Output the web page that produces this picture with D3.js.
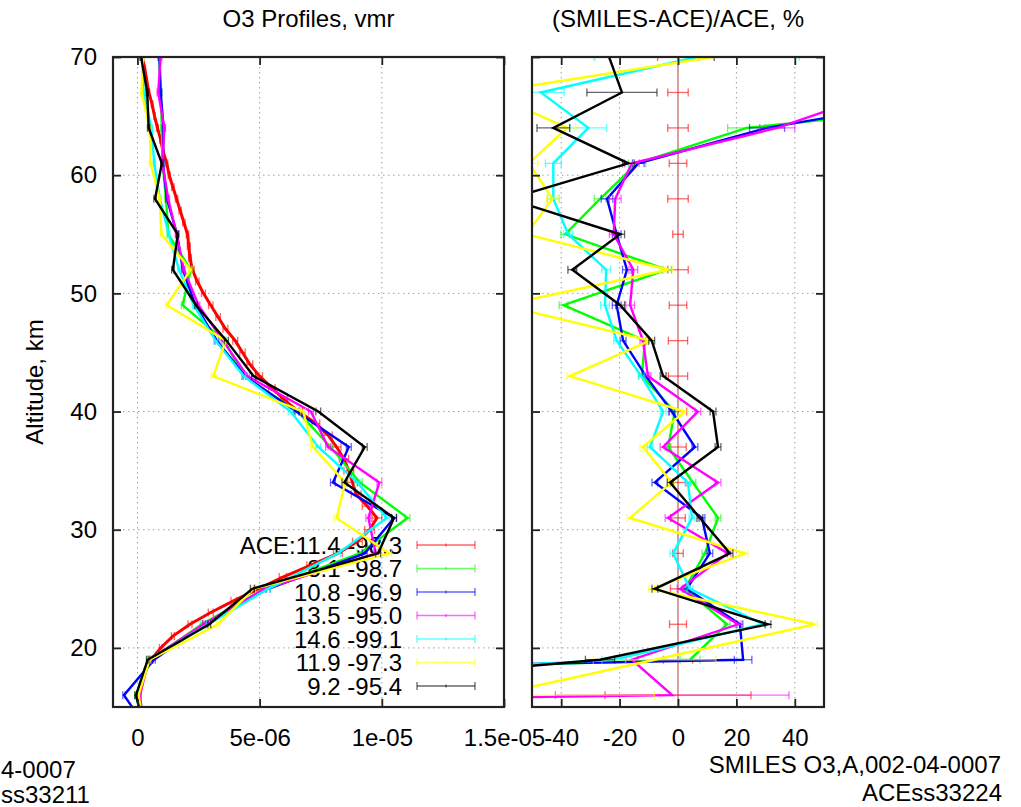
<!DOCTYPE html>
<html>
<head>
<meta charset="utf-8">
<script src="https://cdn.jsdelivr.net/npm/d3@7"></script>
<style>
  body { margin: 0; background: #fff; }
  text { font-family: "Liberation Sans", Arial, Helvetica, sans-serif; }
</style>
</head>
<body>
<svg id="chart" width="1021" height="807"></svg>
<script>
// ---- data ----
// SMILES retrieval levels (km)
const levels = [70, 67, 64, 61, 58, 55, 52, 49, 46, 43, 40, 37, 34, 31, 28, 25, 22, 19, 16, 13];
// ACE profile levels (km) and vmr (x1e-6)
const aceAlt = [15, 16, 17, 18, 19, 20, 21, 22, 23, 24, 25, 26, 27, 28, 29, 30, 31, 32, 33, 34, 35, 36, 37, 38, 39, 40,
  41, 42, 43, 44, 45, 46, 47, 48, 49, 50, 51, 52, 53, 54, 55, 56, 57, 58, 59, 60, 61, 62, 63, 64, 65, 66, 67, 68, 69, 70];
const aceVmr = [0.07, 0.1, 0.18, 0.3, 0.55, 0.95, 1.45, 2.15, 3.0, 3.95, 4.95, 5.95, 7.1, 8.2, 9.0, 9.5, 9.8, 9.4, 8.95, 8.8,
  8.65, 8.45, 8.15, 7.8, 7.3, 6.6, 6.0, 5.5, 5.0, 4.6, 4.3, 4.0, 3.6, 3.3, 3.0, 2.7, 2.45, 2.25, 2.15, 2.1,
  2.05, 1.9, 1.75, 1.6, 1.45, 1.3, 1.2, 1.05, 0.95, 0.82, 0.7, 0.6, 0.47, 0.38, 0.3, 0.2];
const aceErr = [0.02, 0.02, 0.03, 0.03, 0.04, 0.05, 0.06, 0.08, 0.1, 0.12, 0.14, 0.15, 0.17, 0.18, 0.2, 0.2, 0.2, 0.2, 0.2, 0.2,
  0.2, 0.19, 0.18, 0.17, 0.16, 0.15, 0.14, 0.13, 0.12, 0.12, 0.11, 0.1, 0.1, 0.09, 0.09, 0.08, 0.07, 0.07, 0.06, 0.06,
  0.05, 0.05, 0.05, 0.05, 0.05, 0.04, 0.04, 0.04, 0.04, 0.04, 0.03, 0.03, 0.03, 0.03, 0.03, 0.03];

// SMILES vmr profiles (x1e-6) at levels
const vmrGreen   = [0.9, 0.95, 1.0, 1.03, 1.17, 1.26, 2.18, 1.85, 3.55, 4.35, 6.55, 7.9, 9.1, 11.05, 9.1, 5.2, 2.63, 0.55, -0.05, 0.3];
const vmrBlue    = [0.9, 0.95, 1.07, 1.04, 1.21, 1.62, 1.86, 2.37, 3.25, 4.4, 6.5, 8.65, 8.0, 10.5, 9.3, 5.35, 2.73, 0.68, -0.55, 0.45];
const vmrMagenta = [0.95, 0.85, 1.1, 1.02, 1.26, 1.6, 1.9, 2.5, 3.5, 4.5, 7.1, 7.8, 9.9, 9.45, 9.75, 5.2, 2.71, 0.47, 0.1, 0.3];
const vmrCyan    = [0.21, 0.25, 0.57, 0.69, 0.92, 1.28, 1.7, 2.3, 3.2, 4.35, 6.27, 7.4, 9.0, 10.2, 8.2, 5.35, 2.9, 0.43, -0.05, 0.3];
const vmrYellow  = [0.22, 0.17, 0.5, 0.54, 0.91, 0.98, 2.18, 1.2, 3.62, 3.1, 6.78, 7.18, 8.5, 8.15, 10.3, 4.75, 3.3, 0.5, 0.04, 0.3];
const vmrBlack   = [0.15, 0.4, 0.46, 1.0, 0.72, 1.65, 1.45, 2.4, 3.64, 4.75, 7.4, 9.3, 8.47, 10.5, 9.85, 4.7, 2.94, 0.42, -0.06, 0.3];
const vmrErr     = [0.05, 0.05, 0.05, 0.05, 0.05, 0.05, 0.05, 0.05, 0.08, 0.08, 0.1, 0.1, 0.1, 0.1, 0.1, 0.08, 0.06, 0.05, 0.05, 0.05];

// (SMILES-ACE)/ACE, % at levels
const difGreen   = [300, 140, 23.5, -14, -26.7, -38.6, -3.8, -39.2, -11.3, -12.4, -1.1, -3.4, 5.1, 13.7, 9.2, 2.4, 16.8, 4.1, -400, -400];
const difBlue    = [300, 101, 30.5, -13.6, -24.3, -21, -17.5, -21, -18.8, -11, -2.1, 5.8, -7.9, 8.2, 10.9, 3.0, 21.2, 22.3, -600, -300];
const difMagenta = [300, 69, 34, -15.8, -21.5, -22, -15.3, -16.4, -12, -10.3, 6.8, -5.1, 13.7, -3.4, 17.1, 0.7, 20.6, -15.8, -2, -900];
const difCyan    = [6.5, -47, -30.7, -42.7, -42.7, -37.6, -24.6, -25, -21, -12.6, -5.1, -9.6, 3.4, 4.8, -1.7, 4.1, 29, -22, -250, -250];
const difYellow  = [12, -65, -38, -51, -43, -52, -3.3, -60, -9.6, -37, 2.3, -12, -2.2, -16.4, 22.9, -9, 46.8, -8, -63, -100];
const difBlack   = [-23.6, -19.2, -42.7, -17, -58, -19.8, -36.2, -19.8, -9, -5.1, 12, 13.7, -2.7, 7.5, 17.8, -7.9, 30.8, -26.7, -164, -200];
const errGreen   = [30, 15, 6.5, 3, 2, 1.5, 1.5, 1.5, 1, 1, 1, 1, 1, 1, 1, 1, 1, 3.4, 20, 5];
const errBlue    = [30, 15, 6, 2, 2, 1.5, 1.5, 1.5, 1, 1, 1, 1, 1, 1, 1, 1, 1, 3, 30, 5];
const errMagenta = [30, 15, 6, 2.5, 2, 1.5, 1.5, 1.5, 1, 1, 1, 1, 1, 1, 1, 1, 1, 2, 40, 5];
const errCyan    = [35, 8, 6.3, 2.7, 2, 1.5, 1.5, 1.5, 1, 1, 1, 1, 1, 1, 1, 1, 1, 4, 20, 5];
const errYellow  = [41, 10, 3, 3, 2, 1.5, 1.5, 1.5, 1, 1, 1, 1, 1, 1, 1, 1, 1, 21, 55, 5];
const errBlack   = [36, 12, 5.6, 2, 2, 1.5, 1.5, 1.5, 1, 1, 1, 1, 1, 1, 1, 1, 1, 5, 20, 5];
const errAce     = [7, 3.5, 3.5, 3, 3.5, 1.8, 3.5, 3, 3.3, 3.3, 3, 2.8, 2.7, 2.5, 1.8, 2.6, 2.9, 5, 25, 30];

const names  = ["ACE:11.4 -98.3", "8.1 -98.7", "10.8 -96.9", "13.5 -95.0", "14.6 -99.1", "11.9 -97.3", "9.2 -95.4"];
const colors = ["#ff0000", "#00ff00", "#0000ff", "#ff00ff", "#00ffff", "#ffff00", "#000000"];

const xTicksL = [0, 5, 10, 15];
const xLabelsL = ["0", "5e-06", "1e-05", "1.5e-05"];
const xTicksR = [-40, -20, 0, 20, 40];
const yTicks = [20, 30, 40, 50, 60, 70];

const smiles = [
  { vmr: vmrGreen,   dif: difGreen,   err: errGreen },
  { vmr: vmrBlue,    dif: difBlue,    err: errBlue },
  { vmr: vmrMagenta, dif: difMagenta, err: errMagenta },
  { vmr: vmrCyan,    dif: difCyan,    err: errCyan },
  { vmr: vmrYellow,  dif: difYellow,  err: errYellow },
  { vmr: vmrBlack,   dif: difBlack,   err: errBlack }
];

// ---- layout ----
const svg = d3.select("#chart");
const FS = 24;
const plotTop = 57, plotBot = 707;
const y = d3.scaleLinear().domain([15, 70]).range([plotBot, plotTop]);
const xL = d3.scaleLinear().domain([-1, 15]).range([113, 504]);
const xR = d3.scaleLinear().domain([-50, 50]).range([532, 824]);

svg.append("rect").attr("width", 1021).attr("height", 807).attr("fill", "#fff");

const defs = svg.append("defs");
defs.append("clipPath").attr("id", "clipL").append("rect")
  .attr("x", 113).attr("y", plotTop).attr("width", 391).attr("height", plotBot - plotTop);
defs.append("clipPath").attr("id", "clipR").append("rect")
  .attr("x", 532).attr("y", plotTop).attr("width", 292).attr("height", plotBot - plotTop);

function grid(x, xs) {
  const g = svg.append("g").attr("stroke", "#a0a0a0").attr("stroke-width", 1).attr("stroke-dasharray", "1.5,3.5");
  g.selectAll(".gv").data(xs).join("line")
    .attr("x1", d => x(d)).attr("x2", d => x(d)).attr("y1", plotTop).attr("y2", plotBot);
  g.selectAll(".gh").data(yTicks.filter(d => d < 70)).join("line")
    .attr("x1", x.range()[0]).attr("x2", x.range()[1]).attr("y1", d => y(d)).attr("y2", d => y(d));
}

function errorBars(g, pts, color) {
  const eg = g.append("g").attr("stroke", color).attr("stroke-opacity", 0.6).attr("stroke-width", 1.3);
  eg.selectAll(".eb").data(pts).join("line")
    .attr("x1", d => d.x0).attr("x2", d => d.x1).attr("y1", d => y(d.alt)).attr("y2", d => y(d.alt));
  eg.selectAll(".c0").data(pts).join("line")
    .attr("x1", d => d.x0).attr("x2", d => d.x0).attr("y1", d => y(d.alt) - 4).attr("y2", d => y(d.alt) + 4);
  eg.selectAll(".c1").data(pts).join("line")
    .attr("x1", d => d.x1).attr("x2", d => d.x1).attr("y1", d => y(d.alt) - 4).attr("y2", d => y(d.alt) + 4);
}

function axes(x, xt, xfmt, ylab) {
  const [x0, x1] = x.range();
  const style = sel => {
    sel.select(".domain").remove();
    sel.selectAll(".tick line").attr("stroke", "#222").attr("stroke-width", 1.8);
    sel.selectAll(".tick text").attr("font-size", FS).attr("fill", "#000")
      .style("font-family", '"Liberation Sans", Arial, sans-serif');
  };
  svg.append("g").attr("transform", `translate(0,${plotBot})`)
    .call(d3.axisBottom(x).tickValues(xt).tickFormat(xfmt).tickSize(-8).tickPadding(22)).call(style);
  svg.append("g").attr("transform", `translate(0,${plotTop})`)
    .call(d3.axisTop(x).tickValues(xt).tickFormat("").tickSize(-8)).call(style);
  svg.append("g").attr("transform", `translate(${x0},0)`)
    .call(d3.axisLeft(y).tickValues(yTicks).tickFormat(ylab ? (d => String(d)) : "").tickSize(-8).tickPadding(16)).call(style);
  svg.append("g").attr("transform", `translate(${x1},0)`)
    .call(d3.axisRight(y).tickValues(yTicks).tickFormat("").tickSize(-8)).call(style);
  svg.append("rect").attr("x", x0).attr("y", plotTop).attr("width", x1 - x0).attr("height", plotBot - plotTop)
    .attr("fill", "none").attr("stroke", "#222").attr("stroke-width", 2.2);
}

// ---- left panel: O3 vmr ----
grid(xL, [0, 5, 10]);

// key (drawn under the curves)
const key = svg.append("g");
names.forEach((n, i) => {
  const ky = 545 + i * 23.5;
  key.append("text").attr("x", 402).attr("y", ky + 8.5).attr("text-anchor", "end")
    .attr("font-size", FS).text(n);
  const kg = key.append("g").attr("stroke", colors[i]).attr("stroke-opacity", 0.6).attr("stroke-width", 1.3);
  kg.append("line").attr("x1", 417).attr("x2", 475).attr("y1", ky).attr("y2", ky);
  kg.append("line").attr("x1", 417).attr("x2", 417).attr("y1", ky - 4).attr("y2", ky + 4);
  kg.append("line").attr("x1", 475).attr("x2", 475).attr("y1", ky - 4).attr("y2", ky + 4);
  kg.append("line").attr("x1", 446).attr("x2", 446).attr("y1", ky - 1.5).attr("y2", ky + 1.5);
});

const gLeft = svg.append("g").attr("clip-path", "url(#clipL)");
const lineL = d3.line().x(d => xL(d[0])).y(d => y(d[1]));

// ACE
errorBars(gLeft, aceAlt.map((a, i) => ({ alt: a, x0: xL(aceVmr[i] - aceErr[i]), x1: xL(aceVmr[i] + aceErr[i]) })), colors[0]);
gLeft.append("path").datum(aceAlt.map((a, i) => [aceVmr[i], a]))
  .attr("d", lineL).attr("fill", "none").attr("stroke", colors[0]).attr("stroke-width", 3);

smiles.forEach((s, k) => {
  const c = colors[k + 1];
  errorBars(gLeft, levels.map((a, i) => ({ alt: a, x0: xL(s.vmr[i] - vmrErr[i]), x1: xL(s.vmr[i] + vmrErr[i]) })), c);
  gLeft.append("path").datum(levels.map((a, i) => [s.vmr[i], a]))
    .attr("d", lineL).attr("fill", "none").attr("stroke", c).attr("stroke-width", 2.4);
});

axes(xL, xTicksL, d => xLabelsL[xTicksL.indexOf(d)], true);

// ---- right panel: relative difference ----
grid(xR, [-40, -20, 20, 40]);
const gRight = svg.append("g").attr("clip-path", "url(#clipR)");
const lineR = d3.line().x(d => xR(d[0])).y(d => y(d[1]));

gRight.append("line").attr("x1", xR(0)).attr("x2", xR(0)).attr("y1", plotTop).attr("y2", plotBot)
  .attr("stroke", "#c06868").attr("stroke-width", 1.5).attr("stroke-opacity", 0.85);
errorBars(gRight, levels.map((a, i) => ({ alt: a, x0: xR(-errAce[i]), x1: xR(errAce[i]) })), colors[0]);

smiles.forEach((s, k) => {
  const c = colors[k + 1];
  errorBars(gRight, levels.map((a, i) => ({ alt: a, x0: xR(s.dif[i] - s.err[i]), x1: xR(s.dif[i] + s.err[i]) })), c);
  gRight.append("path").datum(levels.map((a, i) => [s.dif[i], a]))
    .attr("d", lineR).attr("fill", "none").attr("stroke", c).attr("stroke-width", 2.4);
});

axes(xR, xTicksR, d => String(d), false);

// ---- titles and labels ----
svg.append("text").attr("x", 308.5).attr("y", 27).attr("text-anchor", "middle").attr("font-size", FS)
  .text("O3 Profiles, vmr");
svg.append("text").attr("x", 678).attr("y", 27).attr("text-anchor", "middle").attr("font-size", FS)
  .text("(SMILES-ACE)/ACE, %");
svg.append("text").attr("transform", "translate(43,382) rotate(-90)").attr("text-anchor", "middle")
  .attr("font-size", FS).text("Altitude, km");

svg.append("text").attr("x", 1).attr("y", 778).attr("font-size", FS).text("4-0007");
svg.append("text").attr("x", 1).attr("y", 803).attr("font-size", FS).text("ss33211");
svg.append("text").attr("x", 1001).attr("y", 773).attr("text-anchor", "end").attr("font-size", FS)
  .text("SMILES O3,A,002-04-0007");
svg.append("text").attr("x", 1002).attr("y", 801).attr("text-anchor", "end").attr("font-size", FS).text("ACEss33224");
</script>
</body>
</html>
